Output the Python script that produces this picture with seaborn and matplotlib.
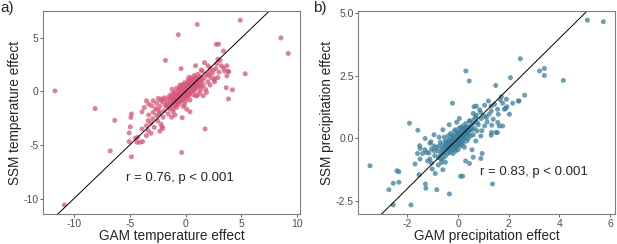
import matplotlib
matplotlib.use("Agg")
import matplotlib.pyplot as plt
import seaborn as sns
import pandas as pd

# GAM vs SSM temperature effects (x = GAM, y = SSM)
temp_outliers = [
    (-11.7, 0.05), (-8.1, -1.6), (-6.35, -2.7), (-6.75, -5.55), (-10.85, -10.6),
    (-4.85, -6.1), (-0.35, -5.7), (1.75, -3.5), (-0.65, 5.3), (1.05, 6.25),
    (4.9, 6.65), (8.55, 5.0), (9.2, 3.55), (5.35, 1.65), (-1.8, 2.9),
    (2.75, 4.4), (2.95, 4.42), (3.4, 3.77), (3.65, 0.35), (4.2, 0.15),
    (3.85, -0.7), (3.8, 1.9), (3.7, 1.45), (-0.4, 2.13), (-4.85, -2.1),
]
temp_lower = [
    (-5.05, -3.87), (-4.95, -3.3), (-4.9, -2.42), (-5.05, -4.68), (-4.5, -4.37),
    (-4.35, -4.75), (-4.1, -4.75), (-3.85, -4.68), (-4.3, -4.28), (-3.5, -4.12),
    (-3.35, -3.65), (-3.5, -3.2), (-3.35, -2.73), (-3.9, -1.9), (-3.5, -0.87),
    (-3.3, -1.18), (-3.05, -1.33), (-2.9, -0.87), (-2.45, -0.65), (-2.15, -0.7),
    (-2.9, -1.95), (-2.6, -2.25), (-2.35, -2.1), (-2.0, -2.4), (-2.5, -2.75),
    (-2.2, -3.05), (-2.05, -3.45), (-2.8, -3.35), (-3.1, -2.95), (-2.95, -2.55),
    (-1.7, -1.33), (-1.4, -1.65), (-1.1, -1.9), (-1.55, -2.1), (-1.25, -2.4),
    (-0.95, -2.2), (-0.8, -1.5), (-0.65, -1.0), (-0.3, -2.45), (0.1, -1.65),
    (0.4, -1.9), (-3.7, -1.5), (-3.3, -2.2), (-2.7, -1.6), (-2.3, -1.9),
    (-1.9, -1.8), (-3.9, -3.5), (-3.1, -3.9), (-2.3, -3.7), (-2.1, -3.3),
]
temp_core = [
    (-2.0, -1.0), (-1.9, -0.6), (-1.8, -1.3), (-1.7, -0.8), (-1.6, -1.1),
    (-1.5, -0.5), (-1.5, -1.5), (-1.4, -0.9), (-1.3, -1.2), (-1.3, -0.3),
    (-1.2, -0.7), (-1.1, -1.0), (-1.1, -1.6), (-1.0, -0.4), (-1.0, -0.8),
    (-0.9, -1.3), (-0.9, -0.1), (-0.8, -0.6), (-0.8, -1.0), (-0.7, -0.3),
    (-0.7, -0.8), (-0.6, 0.1), (-0.6, -0.5), (-0.6, -1.2), (-0.5, -0.2),
    (-0.5, -0.7), (-0.4, 0.3), (-0.4, -0.4), (-0.4, -0.9), (-0.3, 0.0),
    (-0.3, -0.6), (-0.3, 0.6), (-0.2, -0.2), (-0.2, -1.4), (-0.2, 0.4),
    (-0.1, -0.5), (-0.1, 0.1), (-0.1, 0.8), (0.0, -0.3), (0.0, 0.3),
    (0.0, -0.9), (0.1, 0.0), (0.1, 0.5), (0.1, -0.6), (0.2, 0.2),
    (0.2, 1.0), (0.2, -0.2), (0.3, 0.6), (0.3, -0.4), (0.3, 0.1),
    (0.4, 0.9), (0.4, 0.3), (0.4, -0.1), (0.5, 0.5), (0.5, 1.3),
    (0.5, 0.0), (0.6, 0.7), (0.6, 0.2), (0.6, 1.1), (0.7, 0.4),
    (0.7, -0.3), (0.8, 0.9), (0.8, 1.5), (0.8, 0.1), (0.9, 0.6),
    (0.9, 1.2), (1.0, 0.3), (1.0, 0.9), (1.1, 1.6), (1.1, 0.6),
    (1.2, 1.1), (1.2, -0.2), (1.3, 0.8), (1.3, 1.4), (1.4, 0.4),
    (1.5, 1.0), (1.5, 1.9), (1.6, 0.6), (-2.3, -1.4), (-2.2, -0.9),
    (-2.5, -1.7), (-2.6, -1.1), (-0.5, 0.6), (0.3, 1.3), (-0.8, 0.3),
    (0.9, -0.4), (-1.2, 0.2), (1.7, 1.3), (1.8, 0.2), (1.9, 1.6),
    (2.0, 0.9), (0.4, -0.8), (-0.1, -1.2), (1.88, -0.09), (1.58, -0.4),
    (1.34, 0.06), (1.04, -0.4), (-0.25, -0.1), (0.15, 0.35), (-0.45, -0.55),
    (0.25, -0.05), (0.55, 0.75), (-0.15, 0.2), (0.05, -0.45), (0.35, 0.45),
    (-1.35, -0.6), (-1.15, -1.3), (-0.95, -0.65), (-0.85, -0.3), (-0.75, -1.1),
    (-0.65, -0.7), (-0.55, -0.95), (-0.45, -0.15), (-0.35, -0.8), (-0.25, 0.25),
    (-0.15, -0.65), (-0.05, -0.05), (0.05, 0.65), (0.15, 0.1), (0.25, 0.8),
    (0.35, -0.2), (0.45, 0.55), (0.55, 0.25), (0.65, 0.95), (0.75, 0.65),
    (0.85, 1.3), (0.95, 0.45), (1.05, 1.2), (1.15, 0.85), (1.25, 0.5),
    (-0.55, 0.3), (-0.05, 0.5), (0.45, 1.05), (-1.05, -0.15), (0.7, 0.1),
    (-0.35, 0.15), (0.15, -0.35), (0.6, 0.45), (-0.65, -0.25), (1.4, 1.2),
]
temp_upper = [
    (2.2, 2.2), (2.4, 1.7), (2.6, 1.2), (2.8, 2.6), (3.0, 1.8),
    (3.1, 2.9), (3.2, 2.4), (3.4, 2.2), (3.7, 2.4), (3.5, 1.9),
    (2.9, 3.0), (2.5, 2.0), (2.0, 2.4), (1.7, 2.7), (0.9, 2.4),
    (1.4, 2.0), (2.2, 0.6), (2.6, 0.9), (2.9, 1.3), (2.17, 1.83),
    (2.05, 1.52), (2.26, 1.3), (2.56, 1.08), (2.71, 2.14), (3.87, 1.83),
]

# GAM vs SSM precipitation effects
prec_outliers = [
    (-3.48, -1.09), (-2.73, -2.05), (-2.56, -1.79), (-2.41, -1.29), (-2.34, -1.33),
    (-2.34, -1.75), (-2.56, -2.66), (-1.86, -2.66), (-1.92, 0.61), (-1.59, 0.33),
    (-1.54, -1.45), (-1.29, -1.82), (-1.27, -1.99), (-0.84, -2.05), (-0.34, -2.22),
    (-0.22, 1.41), (0.31, 2.7), (0.44, 2.3), (0.1, -1.51), (0.18, -1.51),
    (1.36, -1.82), (1.49, 2.12), (2.07, 2.43), (2.46, 3.19), (2.63, 1.73),
    (2.41, 1.5), (3.22, 2.7), (3.41, 2.8), (3.41, 2.52), (4.16, 2.32),
    (5.11, 4.73), (5.74, 4.67),
]
prec_side = [
    (1.71, 1.67), (1.91, 1.57), (1.88, 1.2), (1.56, 1.17), (1.55, 0.24),
    (1.63, 0.5), (1.32, 0.24), (1.39, 0.77), (1.23, 0.97), (1.12, 0.84),
    (-1.07, -0.13), (-1.11, -0.19), (-1.5, -0.4), (-1.31, -0.45), (-1.24, -0.56),
    (-1.15, -0.58), (-1.05, -0.42), (-0.94, -0.49), (-0.85, -0.36), (-0.92, -0.69),
    (-0.78, -0.76), (-1.11, -0.82), (-1.05, -0.98), (-0.65, -0.96), (-0.78, -1.06),
    (-0.68, -0.82), (-1.02, -1.22), (-1.5, -0.82), (-1.7, -1.02), (-1.52, -0.29),
    (-0.9, -1.4), (-0.6, -1.25), (-0.5, -0.95), (0.45, -1.0), (0.6, -0.75),
    (0.9, -0.8), (0.95, -0.6), (0.3, -0.9), (-1.3, 0.0), (-0.95, 0.15),
    (-0.6, 0.35), (-0.75, 0.05), (-1.2, -0.9), (-1.4, -0.6), (-0.95, -0.3),
    (0.55, -0.45), (0.7, -0.1), (0.9, 0.1), (-0.35, 0.55), (0.05, 0.8),
    (-0.05, 0.65), (0.6, 1.0), (0.85, 1.15), (-1.6, -0.6),
]
prec_core = [
    (-0.8, -0.5), (-0.75, -0.3), (-0.7, -0.65), (-0.7, -0.15), (-0.65, -0.45),
    (-0.6, -0.8), (-0.6, -0.25), (-0.55, -0.55), (-0.55, 0.05), (-0.5, -0.35),
    (-0.5, -0.7), (-0.45, -0.15), (-0.45, -0.45), (-0.4, -0.6), (-0.4, -0.25),
    (-0.4, 0.1), (-0.35, -0.4), (-0.35, -0.05), (-0.3, -0.3), (-0.3, -0.55),
    (-0.3, 0.2), (-0.25, -0.15), (-0.25, -0.4), (-0.2, 0.0), (-0.2, -0.25),
    (-0.2, -0.6), (-0.15, -0.1), (-0.15, 0.3), (-0.15, -0.35), (-0.1, 0.05),
    (-0.1, -0.2), (-0.1, -0.5), (-0.05, 0.15), (-0.05, -0.1), (-0.05, -0.3),
    (0.0, 0.0), (0.0, 0.25), (0.0, -0.2), (0.0, -0.45), (0.05, 0.1),
    (0.05, -0.1), (0.05, 0.4), (0.1, 0.2), (0.1, -0.05), (0.1, -0.3),
    (0.15, 0.05), (0.15, 0.3), (0.15, -0.2), (0.2, 0.15), (0.2, 0.5),
    (0.2, -0.05), (0.25, 0.25), (0.25, 0.0), (0.25, -0.35), (0.3, 0.35),
    (0.3, 0.1), (0.3, 0.6), (0.35, 0.2), (0.35, -0.1), (0.4, 0.45),
    (0.4, 0.15), (0.45, 0.3), (0.45, 0.7), (0.5, 0.5), (0.5, 0.1),
    (0.55, 0.35), (0.6, 0.6), (0.6, 0.15), (0.65, 0.4), (0.7, 0.85),
    (0.75, 0.3), (0.8, 0.55), (-0.25, 0.1), (-0.35, -0.2), (0.05, -0.25),
    (0.15, 0.15), (-0.1, 0.35), (0.2, -0.2), (-0.5, -0.1), (0.35, 0.45),
    (-0.6, -0.4), (0.1, 0.45), (-0.2, -0.45), (0.4, 0.0), (0.0, 0.1),
    (-0.3, -0.1), (0.25, 0.15), (-0.42, -0.32), (-0.28, -0.22), (-0.12, -0.12),
    (0.02, 0.02), (0.12, 0.08), (0.22, 0.28), (0.32, 0.22), (-0.18, 0.12),
    (-0.38, -0.48), (0.08, -0.15), (0.18, 0.38), (-0.08, -0.38), (0.28, 0.42),
    (-0.48, -0.25), (0.38, 0.3), (-0.22, -0.08), (0.12, 0.22), (-0.02, 0.2),
    (0.48, 0.38), (-0.62, -0.58),
]
prec_upper = [
    (0.63, 1.27), (0.72, 1.3), (1.05, 1.33), (1.2, 1.5), (1.31, 1.3),
    (1.44, 1.37), (0.89, 1.04), (0.72, 0.93), (1.05, 0.9), (1.31, 1.1),
    (1.67, 1.54), (1.76, 1.41), (1.83, 1.17), (1.93, 1.27), (2.03, 0.97),
    (2.16, 1.41), (2.38, 1.5), (1.57, 0.64), (1.76, 0.5), (1.5, 0.24),
    (1.31, 0.13), (0.94, 0.31), (1.05, 0.5), (0.76, 0.64), (0.63, 0.77),
    (0.46, 0.7), (0.92, 0.8), (1.15, 0.66), (1.33, 0.53), (1.59, 0.97),
]

temp_note = "r = 0.76, p < 0.001"
prec_note = "r = 0.83, p < 0.001"


def to_frame(*groups):
    pts = [p for g in groups for p in g]
    return pd.DataFrame(pts, columns=["gam", "ssm"])


temp_df = to_frame(temp_outliers, temp_lower, temp_core, temp_upper)
prec_df = to_frame(prec_outliers, prec_side, prec_core, prec_upper)

sns.set_theme(style="white")
plt.rcParams["font.family"] = ["Liberation Sans", "DejaVu Sans"]
plt.rcParams["axes.unicode_minus"] = False

fig = plt.figure(figsize=(6.17, 2.44), dpi=100)
ax_a = fig.add_axes([0.0702, 0.122, 0.4158, 0.833])
ax_b = fig.add_axes([0.5807, 0.122, 0.4161, 0.833])


def draw_panel(ax, df, colour, note, note_xy, xlabel, ylabel, xticks, yticks, yfmt):
    sns.scatterplot(data=df, x="gam", y="ssm", ax=ax, color=colour, alpha=0.75,
                    s=13, edgecolor="none", linewidth=0)
    ax.axline((0, 0), slope=1, color="black", lw=0.7)
    ax.margins(0.05)
    ax.set_xticks(xticks)
    ax.set_yticks(yticks)
    ax.set_yticklabels([yfmt.format(t) for t in yticks])
    ax.tick_params(axis="both", length=2.2, width=0.6, color="#4D4D4D",
                   labelcolor="#4D4D4D", labelsize=7.5, pad=1.2, left=True, bottom=True)
    for sp in ax.spines.values():
        sp.set_color("#7F7F7F")
        sp.set_linewidth(0.8)
    ax.set_xlabel(xlabel, fontsize=9.8, labelpad=0.3)
    ax.set_ylabel(ylabel, fontsize=9.8, labelpad=1.0)
    ax.text(note_xy[0], note_xy[1], note, fontsize=9.5, ha="center", va="center")


draw_panel(ax_a, temp_df, "#D6577B", temp_note, (-0.5, -8.1),
           "GAM temperature effect", "SSM temperature effect",
           [-10, -5, 0, 5, 10], [-10, -5, 0, 5], "{:g}")
draw_panel(ax_b, prec_df, "#3B7F9A", prec_note, (3.0, -1.33),
           "GAM precipitation effect", "SSM precipitation effect",
           [-2, 0, 2, 4, 6], [-2.5, 0.0, 2.5, 5.0], "{:.1f}")

fig.text(0.0, 0.995, "a)", fontsize=11, ha="left", va="top")
fig.text(0.507, 0.995, "b)", fontsize=11, ha="left", va="top")

fig.savefig("out.png", dpi=100)
